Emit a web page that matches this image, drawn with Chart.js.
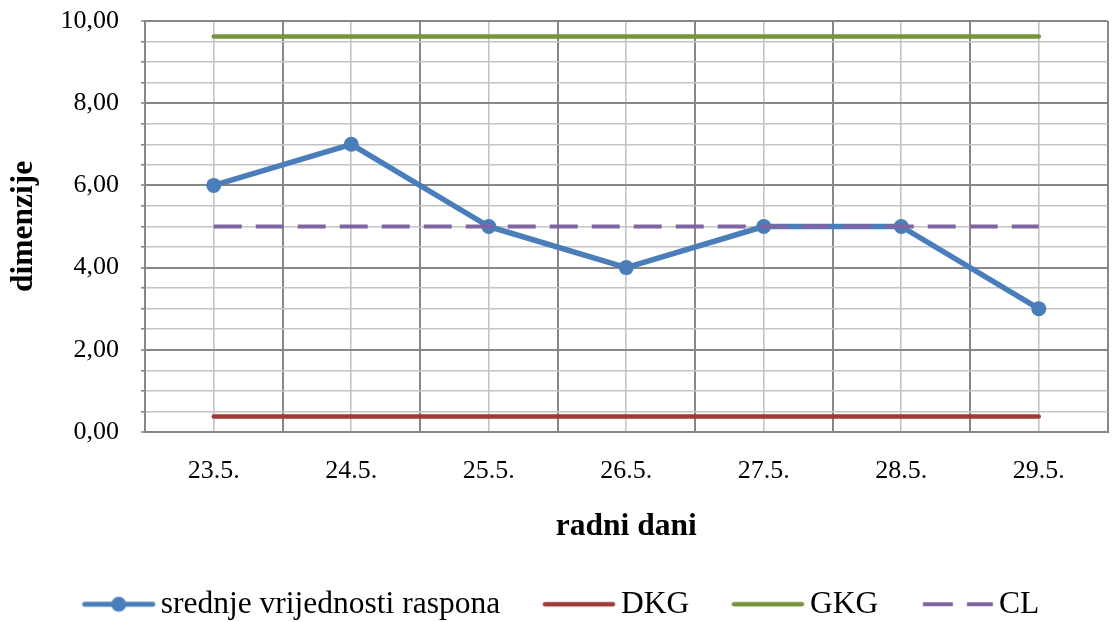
<!DOCTYPE html>
<html>
<head>
<meta charset="utf-8">
<script src="https://cdn.jsdelivr.net/npm/chart.js@4/dist/chart.umd.min.js"></script>
<style>
  html, body { margin: 0; padding: 0; background: #fff; overflow: hidden; }
  #wrap { width: 1115px; height: 622px; }
</style>
</head>
<body>
<div id="wrap"><canvas id="chart" width="1115" height="622"></canvas></div>
<script>
// Working days on the category axis
const days = ['23.5.', '24.5.', '25.5.', '26.5.', '27.5.', '28.5.', '29.5.'];

// Mean range values per day
const rangeMeans = [6, 7, 5, 4, 5, 5, 3];

// Control limits (lower, upper) and centre line
const lowerLimit = [0.38, 0.38, 0.38, 0.38, 0.38, 0.38, 0.38];
const upperLimit = [9.62, 9.62, 9.62, 9.62, 9.62, 9.62, 9.62];
const centerLine = [5, 5, 5, 5, 5, 5, 5];

// Series names
const seriesNames = ['srednje vrijednosti raspona', 'DKG', 'GKG', 'CL'];

// Value axis range
const yMin = 0, yMax = 10, yMajorStep = 2, yMinorStep = 0.5;

const FONT = '"Liberation Serif", "Times New Roman", serif';
const COLORS = ['#4A7EBB', '#9D3B39', '#77933C', '#8064A2'];
const MAJOR_GRID = '#878787';
const MINOR_GRID = '#c4c4c4';

const fmt = v => v.toFixed(2).replace('.', ',');
const isMajor = v => Math.abs(v / yMajorStep - Math.round(v / yMajorStep)) < 1e-6;

// Legend icon geometry
const LEG_FS = 31.5;        // legend font size
const LEG_BOX = 95;         // reserved box width per legend item
const ICON_W = 72;          // visible icon length
const ICON_GAP = 6;         // gap between icon and its text
const ICON_CANVAS_W = 120;
const ICON_CANVAS_H = 24;

function makeIcon(kind, color) {
  const c = document.createElement('canvas');
  c.width = ICON_CANVAS_W;
  c.height = ICON_CANVAS_H;
  const g = c.getContext('2d');
  const right = ICON_CANVAS_W / 2 + LEG_BOX / 2 + LEG_FS / 2 - ICON_GAP;
  const left = right - ICON_W;
  const y = ICON_CANVAS_H / 2;
  g.strokeStyle = color;
  g.lineCap = 'round';
  if (kind === 'dash') {
    g.lineWidth = 4;
    g.lineCap = 'butt';
    g.beginPath();
    g.moveTo(left + 2, y); g.lineTo(left + 32, y);
    g.moveTo(left + 46, y); g.lineTo(left + 72, y);
    g.stroke();
  } else {
    g.lineWidth = kind === 'marker' ? 5 : 4.5;
    g.beginPath();
    g.moveTo(left + 2, y); g.lineTo(right - 2, y);
    g.stroke();
    if (kind === 'marker') {
      g.fillStyle = color;
      g.beginPath();
      g.arc((left + right) / 2, y, 7.5, 0, Math.PI * 2);
      g.fill();
    }
  }
  return c;
}

const icons = [
  makeIcon('marker', COLORS[0]),
  makeIcon('line', COLORS[1]),
  makeIcon('line', COLORS[2]),
  makeIcon('dash', COLORS[3])
];

const limitLine = (label, data, color, order, extra) => Object.assign({
  label, data,
  borderColor: color,
  backgroundColor: color,
  borderWidth: 4.5,
  borderCapStyle: 'round',
  pointRadius: 0,
  pointHoverRadius: 0,
  tension: 0,
  fill: false,
  order
}, extra || {});

new Chart(document.getElementById('chart'), {
  type: 'line',
  data: {
    labels: days,
    datasets: [
      {
        label: seriesNames[0],
        data: rangeMeans,
        borderColor: COLORS[0],
        backgroundColor: COLORS[0],
        borderWidth: 5.5,
        borderCapStyle: 'round',
        borderJoinStyle: 'round',
        pointRadius: 7.5,
        pointHoverRadius: 7.5,
        pointBackgroundColor: COLORS[0],
        pointBorderColor: COLORS[0],
        pointBorderWidth: 0,
        tension: 0,
        fill: false,
        order: 4
      },
      limitLine(seriesNames[1], lowerLimit, COLORS[1], 3),
      limitLine(seriesNames[2], upperLimit, COLORS[2], 2),
      limitLine(seriesNames[3], centerLine, COLORS[3], 1, { borderWidth: 4, borderDash: [28, 14], borderCapStyle: 'butt' })
    ]
  },
  options: {
    responsive: false,
    animation: false,
    events: [],
    layout: { padding: { left: 40, right: 2, top: 21, bottom: -8 } },
    plugins: {
      tooltip: { enabled: false },
      legend: {
        position: 'bottom',
        align: 'start',
        labels: {
          usePointStyle: true,
          pointStyleWidth: LEG_BOX,
          padding: 10,
          color: '#000',
          font: { family: FONT, size: LEG_FS },
          generateLabels: chart => chart.data.datasets.map((ds, i) => ({
            text: ds.label,
            pointStyle: icons[i],
            fillStyle: 'rgba(0,0,0,0)',
            strokeStyle: 'rgba(0,0,0,0)',
            lineWidth: 0,
            hidden: false,
            datasetIndex: i,
            fontColor: '#000'
          }))
        }
      }
    },
    scales: {
      x: {
        type: 'category',
        offset: true,
        grid: { offset: true, color: MAJOR_GRID, lineWidth: 2, drawTicks: false },
        border: { display: true, color: MAJOR_GRID, width: 2 },
        ticks: {
          color: '#000',
          font: { family: FONT, size: 26 },
          padding: 24,
          maxRotation: 0,
          autoSkip: false
        },
        title: {
          display: true,
          text: 'radni dani',
          color: '#000',
          font: { family: FONT, size: 31.5, weight: 'bold' },
          padding: { top: 0, bottom: 32.6 }
        },
        afterFit: s => { s.height = 146.5; }
      },
      xCenters: {
        type: 'category',
        position: 'bottom',
        offset: true,
        grid: { offset: false, color: MINOR_GRID, lineWidth: 1.6, drawTicks: false },
        border: { display: false },
        ticks: { display: false },
        afterFit: s => { s.height = 0; }
      },
      y: {
        min: yMin,
        max: yMax,
        ticks: {
          stepSize: yMinorStep,
          maxTicksLimit: 100,
          autoSkip: false,
          color: '#000',
          font: { family: FONT, size: 26 },
          padding: 22,
          callback: v => isMajor(v) ? fmt(v) : ''
        },
        grid: {
          color: c => isMajor(c.tick.value) ? MAJOR_GRID : MINOR_GRID,
          lineWidth: c => isMajor(c.tick.value) ? 2 : 1.6,
          drawTicks: true,
          tickLength: 4,
          tickColor: MAJOR_GRID,
          tickWidth: 1.6
        },
        border: { display: true, color: MAJOR_GRID, width: 2 },
        title: {
          display: true,
          text: 'dimenzije',
          color: '#000',
          font: { family: FONT, size: 31.5, weight: 'bold' },
          padding: { top: -35, bottom: 0 }
        },
        afterFit: s => {
          s.width = 105;
          s.paddingTop = 0;
          s.paddingBottom = 0;
        }
      }
    }
  }
});
</script>
</body>
</html>
